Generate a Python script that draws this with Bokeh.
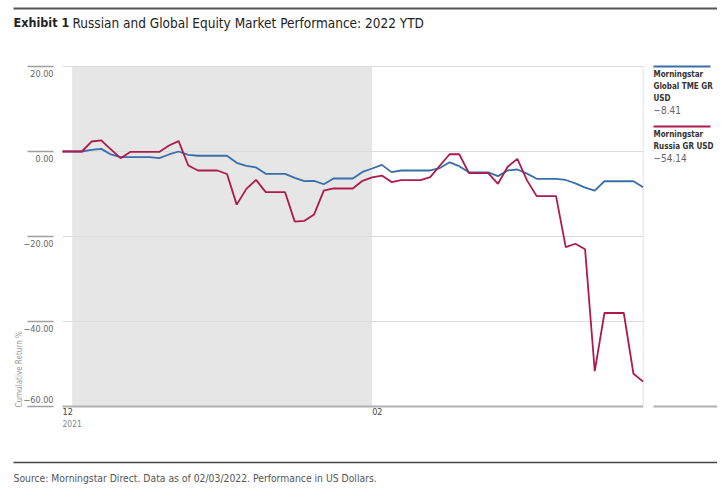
import math
import numpy as np
import pandas as pd
from bokeh.plotting import figure
from bokeh.core.properties import value
from bokeh.embed import file_html
from bokeh.resources import INLINE

# ---------------- data ----------------
dates = pd.date_range("2021-12-31", "2022-03-01", freq="D")
russia = [0.0, 0.0, 0.0, 2.35, 2.6, 0.5, -1.57, -0.1, -0.1, -0.1,
          -0.1, 1.41, 2.43, -3.3, -4.47, -4.47, -4.47, -5.3, -12.5, -8.8,
          -6.67, -9.57, -9.57, -9.57, -16.5, -16.3, -14.8, -9.2, -8.7, -8.7,
          -8.7, -6.9, -6.1, -5.65, -7.2, -6.75, -6.75, -6.75, -6.04, -3.3,
          -0.65, -0.65, -5.1, -5.1, -5.1, -7.6, -3.6, -1.73, -6.8, -10.5,
          -10.5, -10.5, -22.5, -21.7, -23.0, -51.7, -38.0, -38.0, -38.0, -52.3,
          -54.14]
global_tme = [0.0, 0.0, 0.0, 0.4, 0.62, -0.7, -1.33, -1.33, -1.33, -1.33,
              -1.57, -0.7, 0.0, -0.8, -1.0, -1.0, -1.0, -1.0, -2.67, -3.37,
              -3.76, -5.25, -5.25, -5.25, -6.2, -6.98, -6.9, -7.7, -6.35, -6.35,
              -6.35, -4.8, -4.0, -3.14, -4.86, -4.47, -4.47, -4.47, -4.47, -3.9,
              -2.55, -3.45, -4.9, -4.9, -4.9, -5.8, -4.47, -4.24, -5.2, -6.43,
              -6.43, -6.43, -6.7, -7.5, -8.5, -9.2, -7.0, -7.0, -7.0, -7.0,
              -8.41]
y_ticks = [20, 0, -20, -40, -60]
y_tick_labels = ["20.00", "0.00", "\u221220.00", "\u221240.00", "\u221260.00"]
x_tick_dates = ["2021-12-31", "2022-02-01"]
x_tick_labels = ["12", "02"]
x_tick_sublabels = ["2021", ""]
shade_start, shade_end = "2022-01-01", "2022-02-01"
series_names = [["Morningstar", "Global TME GR", "USD"], ["Morningstar", "Russia GR USD"]]
series_last = ["\u22128.41", "\u221254.14"]
series_colors = ["#3a6dab", "#ad1a4b"]

title_bold = "Exhibit 1"
title_rest = "Russian and Global Equity Market Performance: 2022 YTD"
source_text = "Source: Morningstar Direct. Data as of 02/03/2022. Performance in US Dollars."
y_title = "Cumulative Return %"

# ---------------- layout / scales ----------------
FONT = "DejaVu Sans Condensed"
W, H = 717, 485
PX_DAY = 300 / 31.0
PX_UNIT = 4.25
X0_PAGE = 62
Y0_PAGE = 151
ORG = 0


def ms(d):
    return pd.Timestamp(d).value / 1e6


x_ms = [ms(d) for d in dates]
DAY_MS = 86400000.0
x_start = x_ms[0] - (X0_PAGE - ORG) / PX_DAY * DAY_MS
x_end = x_start + W / PX_DAY * DAY_MS
y_end = (Y0_PAGE - ORG) / PX_UNIT
y_start = y_end - H / PX_UNIT


def X(px):
    return x_start + (px - ORG) / PX_DAY * DAY_MS


def Y(py):
    return y_end - (py - ORG) / PX_UNIT


p = figure(width=W, height=H, output_backend="svg", toolbar_location=None,
           x_range=(x_start, x_end), y_range=(y_start, y_end),
           x_axis_location=None, y_axis_location=None, min_border=0)
p.grid.visible = False
p.outline_line_color = None
p.background_fill_color = "white"
p.border_fill_color = "white"

# shaded month
p.quad(left=[ms(shade_start)], right=[ms(shade_end)], bottom=[y_ticks[-1]], top=[y_ticks[0]],
       fill_color="#e6e6e6", line_color=None)

# gridlines
grid_y = y_ticks[:-1]
p.segment(x0=[x_ms[0]] * len(grid_y), x1=[x_ms[-1]] * len(grid_y), y0=grid_y, y1=grid_y,
          line_color="#dcdcdc", line_width=1)
# right edge of plot
p.segment(x0=[x_ms[-1]], x1=[x_ms[-1]], y0=[y_ticks[-1]], y1=[y_ticks[0]],
          line_color="#e4e4e4", line_width=1)
# x axis line
p.segment(x0=[x_ms[0]], x1=[x_ms[-1]], y0=[y_ticks[-1]], y1=[y_ticks[-1]],
          line_color="#b0b0b0", line_width=2)

# y tick short lines and labels
p.segment(x0=[X(27)] * len(y_ticks), x1=[X(53)] * len(y_ticks), y0=y_ticks, y1=y_ticks,
          line_color="#a0a0a0", line_width=1.5)
lab_y = [t - 7 / PX_UNIT for t in y_ticks[:-1]] + [y_ticks[-1] + 7 / PX_UNIT]
p.text(x=[X(53)] * len(y_ticks), y=lab_y, text=y_tick_labels, text_align="right",
       text_baseline="middle", text_font=value(FONT), text_font_size="9px", text_color="#666666")

# y title
p.text(x=[X(19)], y=[Y(407)], text=[y_title], angle=math.pi / 2, text_align="left",
       text_baseline="middle", text_font=value(FONT), text_font_size="8px", text_color="#999999")

# x tick labels
xt = [ms(d) for d in x_tick_dates]
p.text(x=xt, y=[Y(411)] * 2, text=x_tick_labels, text_align="left", text_baseline="middle",
       text_font=value(FONT), text_font_size="9px", text_color="#444444")
p.text(x=xt, y=[Y(423)] * 2, text=x_tick_sublabels, text_align="left", text_baseline="middle",
       text_font=value(FONT), text_font_size="8.5px", text_color="#888888")

# series lines
p.line(x=x_ms, y=global_tme, line_color=series_colors[0], line_width=1.8)
p.line(x=x_ms, y=russia, line_color=series_colors[1], line_width=1.8)

# legend column on the right
leg_tops = [66, 126]
for i in range(2):
    top = leg_tops[i]
    p.segment(x0=[X(653)], x1=[X(710)], y0=[Y(top)], y1=[Y(top)],
              line_color=series_colors[i], line_width=2)
    names = series_names[i]
    ys = [Y(top + 7.5 + 12 * k) for k in range(len(names))]
    p.text(x=[X(653)] * len(names), y=ys, text=names, text_align="left", text_baseline="middle",
           text_font=value(FONT), text_font_size="8px", text_font_style="bold", text_color="#333333")
    p.text(x=[X(653)], y=[Y(top + 7.5 + 12 * len(names) - 0.5)], text=[series_last[i]],
           text_align="left", text_baseline="middle", text_font=value(FONT),
           text_font_size="10px", text_color="#666666")
p.segment(x0=[X(653)], x1=[X(717)], y0=[y_ticks[-1]], y1=[y_ticks[-1]],
          line_color="#b0b0b0", line_width=2)

# title and rules
p.segment(x0=[X(13)], x1=[X(717)], y0=[Y(8)], y1=[Y(8)], line_color="#555555", line_width=2)
p.text(x=[X(13)], y=[Y(22)], text=[title_bold], text_align="left", text_baseline="middle",
       text_font=value(FONT), text_font_size="12.5px", text_font_style="bold", text_color="#222222")
p.text(x=[X(72)], y=[Y(22)], text=[title_rest], text_align="left", text_baseline="middle",
       text_font=value(FONT), text_font_size="13.5px", text_color="#222222")
p.segment(x0=[X(13)], x1=[X(717)], y0=[Y(462)], y1=[Y(462)], line_color="#444444", line_width=1.5)
p.text(x=[X(13)], y=[Y(477)], text=[source_text], text_align="left", text_baseline="middle",
       text_font=value(FONT), text_font_size="10.3px", text_color="#555555")

open("out.html", "w").write(file_html(p, INLINE))
